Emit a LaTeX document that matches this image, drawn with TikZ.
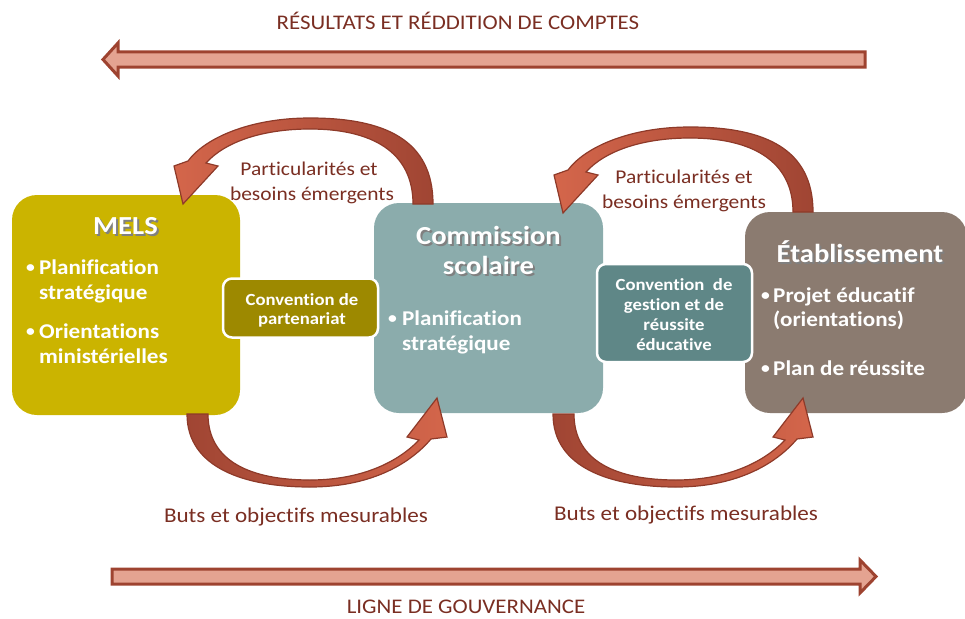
\documentclass[tikz,border=0pt]{standalone}
\usepackage{fontspec}
\setmainfont{Carlito}[FakeStretch=1.1,Ligatures=NoCommon]
\definecolor{melsc}{HTML}{CBB400}
\definecolor{partc}{HTML}{9D8900}
\definecolor{comc}{HTML}{8BACAC}
\definecolor{gestc}{HTML}{5F8787}
\definecolor{etabc}{HTML}{8B7B70}
\definecolor{darkred}{HTML}{9E4330}
\definecolor{salmon}{HTML}{E4A391}
\definecolor{maroon}{HTML}{7A2E22}
\definecolor{taildark}{HTML}{A04533}
\definecolor{headlight}{HTML}{D4664B}
\definecolor{arrline}{HTML}{8E3A29}
\definecolor{shadowc}{HTML}{808080}
\begin{document}
\begin{tikzpicture}[x=1pt,y=-1pt,
  bigbox/.style={draw=none,rounded corners=25pt,inner sep=0pt},
  convbox/.style={draw=white,line width=2.5pt,rounded corners=9pt,inner sep=0pt,
    minimum width=155pt},
  wtxt/.style={text=white,font=\bfseries\fontsize{21}{25}\selectfont,anchor=base west,inner sep=0pt},
  bul/.style={text=white,font=\bfseries\fontsize{16}{16}\selectfont,anchor=base west,inner sep=0pt},
  ctxt/.style={text=white,font=\bfseries\fontsize{17}{20}\selectfont,anchor=base,inner sep=0pt},
  ttl/.style={text=white,font=\bfseries\fontsize{26}{30}\selectfont,anchor=base,inner sep=0pt},
  ttlsh/.style={text=shadowc,font=\bfseries\fontsize{26}{30}\selectfont,anchor=base,inner sep=0pt},
  lbl/.style={text=maroon,font=\fontsize{19.5}{25}\selectfont,anchor=base,inner sep=0pt},
  lblb/.style={text=maroon,font=\fontsize{21}{25}\selectfont,anchor=base,inner sep=0pt},
  straight/.style={draw=darkred,fill=salmon,line width=3pt,line join=miter},
  curvedl/.style={draw=arrline,line width=1.2pt,left color=headlight,right color=taildark,line join=miter},
  curvedr/.style={draw=arrline,line width=1.2pt,left color=taildark,right color=headlight,line join=miter}
]
\useasboundingbox (0,0) rectangle (965,618);

% straight arrows
\path[straight] (865,52) -- (118,52) -- (118,43) -- (103,59.5) -- (118,76) -- (118,67) -- (865,67) -- cycle;
\path[straight] (112,569) -- (860,569) -- (860,560) -- (876,576.5) -- (860,593) -- (860,584) -- (112,584) -- cycle;
\node[lblb,font=\fontsize{20.8}{25}\selectfont] (topttl) at (458,30) {RÉSULTATS ET RÉDDITION DE COMPTES};
\node[lblb,font=\fontsize{20.8}{25}\selectfont] (botttl) at (466,613) {LIGNE DE GOUVERNANCE};

% big boxes
\node[bigbox,fill=melsc,minimum width=228pt,minimum height=220pt] (mels) at (126,305) {};
\node[bigbox,fill=comc,minimum width=229pt,minimum height=210pt] (com) at (488.5,308) {};
\node[bigbox,fill=etabc,minimum width=222pt,minimum height=201pt] (etab) at (856,312.5) {};

% convention boxes
\node[convbox,fill=partc,minimum height=59pt] (part) at (300.5,308) {};
\node[convbox,fill=gestc,minimum height=98pt] (gest) at (674.5,313) {};

% titles with shadow
\node[ttlsh] (melssh) at (127.5,236.5) {MELS};
\node[ttl] (melst) at (125.5,234.5) {MELS};
\node[ttlsh] (comsh1) at (490.5,246.5) {Commission};
\node[ttl] (comt1) at (488.5,244.5) {Commission};
\node[ttlsh] (comsh2) at (490.5,276.5) {scolaire};
\node[ttl] (comt2) at (488.5,274.5) {scolaire};
\node[ttlsh] (etabsh) at (862,264.5) {Établissement};
\node[ttl] (etabt) at (860,262.5) {Établissement};

% MELS bullets
\node[bul] (mb1) at (26,272) {•};
\node[wtxt] (m1) at (39,274) {Planification};
\node[wtxt] (m2) at (39,299) {stratégique};
\node[bul] (mb2) at (26,336) {•};
\node[wtxt] (m3) at (39,338) {Orientations};
\node[wtxt] (m4) at (39,363) {ministérielles};

% Commission bullets
\node[bul] (cb1) at (388,323) {•};
\node[wtxt] (c1) at (402,325) {Planification};
\node[wtxt] (c2) at (402,350) {stratégique};

% Etablissement bullets
\node[bul] (eb1) at (761,300) {•};
\node[wtxt] (e1) at (773,302) {Projet éducatif};
\node[wtxt] (e2) at (773,326) {(orientations)};
\node[bul] (eb2) at (761,373) {•};
\node[wtxt] (e3) at (773,375) {Plan de réussite};

% convention texts
\node[ctxt] (p1) at (302,305) {Convention de};
\node[ctxt] (p2) at (302,324) {partenariat};
\node[ctxt] (g1) at (674,290) {Convention\ \ de};
\node[ctxt] (g2) at (674,310) {gestion et de};
\node[ctxt] (g3) at (674,330) {réussite};
\node[ctxt] (g4) at (674,350) {éducative};

% curved arrows (top)
\path[curvedl] (433,204) .. controls (433,140) and (385,118) .. (310,118) .. controls (250,118) and (205,138) .. (188,161) -- (174,166) -- (183,204) -- (218,166) -- (206,163) .. controls (225,142) and (262,129) .. (310,129) .. controls (372,129) and (413,152) .. (413,204) -- cycle;
\begin{scope}[shift={(380,9)}]
\path[curvedl] (433,203) .. controls (433,140) and (385,118) .. (310,118) .. controls (250,118) and (205,138) .. (188,161) -- (174,166) -- (183,204) -- (218,166) -- (206,163) .. controls (225,142) and (262,129) .. (310,129) .. controls (372,129) and (413,152) .. (413,203) -- cycle;
\end{scope}
% curved arrows (bottom)
\path[curvedr] (187,414) .. controls (187,468) and (245,487) .. (310,487) .. controls (368,487) and (408,466) .. (431,439) -- (447,437) -- (437,398) -- (407,437) -- (419,440) .. controls (397,463) and (360,480) .. (310,480) .. controls (252,480) and (208,462) .. (208,414) -- cycle;
\begin{scope}[shift={(366,0)}]
\path[curvedr] (187,414) .. controls (187,468) and (245,487) .. (310,487) .. controls (368,487) and (408,466) .. (431,439) -- (447,437) -- (437,398) -- (407,437) -- (419,440) .. controls (397,463) and (360,480) .. (310,480) .. controls (252,480) and (208,462) .. (208,414) -- cycle;
\end{scope}

% labels
\node[lbl] (lt1) at (309,175) {Particularités et};
\node[lbl] (lt2) at (312,200) {besoins émergents};
\node[lbl] (rt1) at (684,183) {Particularités et};
\node[lbl] (rt2) at (684,208) {besoins émergents};
\node[lblb] (lb) at (296,522) {Buts et objectifs mesurables};
\node[lblb] (rb) at (686,520) {Buts et objectifs mesurables};
\end{tikzpicture}
\end{document}
